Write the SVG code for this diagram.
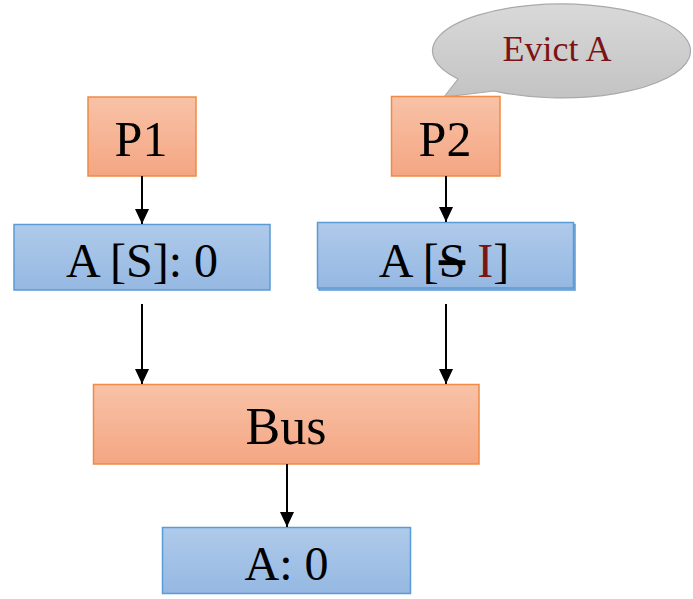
<svg xmlns="http://www.w3.org/2000/svg" width="693" height="599" viewBox="0 0 693 599">
  <defs>
    <linearGradient id="gOrange" x1="0" y1="0" x2="0" y2="1">
      <stop offset="0" stop-color="#f8c2a7"/>
      <stop offset="1" stop-color="#f4a683"/>
    </linearGradient>
    <linearGradient id="gBlue" x1="0" y1="0" x2="0" y2="1">
      <stop offset="0" stop-color="#afcaea"/>
      <stop offset="1" stop-color="#95b8e2"/>
    </linearGradient>
    <linearGradient id="gGray" x1="0" y1="0" x2="0" y2="1">
      <stop offset="0" stop-color="#d9d9d9"/>
      <stop offset="1" stop-color="#c3c3c3"/>
    </linearGradient>
    <marker id="arrow" viewBox="0 0 15 14" refX="15" refY="7" markerWidth="15" markerHeight="14" markerUnits="userSpaceOnUse" orient="auto">
      <path d="M0,0 L15,7 L0,14 Z" fill="#000"/>
    </marker>
  </defs>
  <style>
    .proc { fill: url(#gOrange); stroke: #f08a45; stroke-width: 1.5; }
    .cache { fill: url(#gBlue); stroke: #5b9bd5; stroke-width: 1.5; }
    .lbl { font-family: "Liberation Serif", "Times New Roman", serif; fill: #000; text-anchor: middle; }
    .big { font-size: 50px; }
    .mid { font-size: 48px; }
    .edge { stroke: #000; stroke-width: 2; fill: none; marker-end: url(#arrow); }
  </style>

  <!-- speech bubble -->
  <g id="callout">
    <path d="M444,97 L458,79 A129,47 0 1 1 494,91 Z" fill="url(#gGray)" stroke="#a9a9a9" stroke-width="1.2"/>
    <text class="lbl" x="557" y="61" font-size="36" style="fill:#7b1414">Evict A</text>
  </g>

  <g id="p1">
    <rect class="proc" x="88" y="97" width="108" height="79"/>
    <text class="lbl big" x="141" y="155.5">P1</text>
  </g>

  <g id="p2">
    <rect class="proc" x="391.5" y="96.5" width="108.5" height="79.5"/>
    <text class="lbl big" x="445" y="155.5">P2</text>
  </g>

  <g id="cache1">
    <rect class="cache" x="14" y="224.5" width="256" height="65.5"/>
    <text class="lbl mid" x="142" y="277">A [S]: 0</text>
  </g>

  <g id="cache2">
    <rect class="cache" x="319" y="224.5" width="256" height="65.5"/>
    <rect class="cache" x="317.5" y="222.5" width="256" height="65.5"/>
    <text class="lbl mid" x="444" y="277">A [<tspan text-decoration="line-through">S</tspan> <tspan style="fill:#7b1414">I</tspan>]</text>
  </g>

  <g id="bus">
    <rect class="proc" x="93.5" y="384.5" width="385.5" height="79.5"/>
    <text class="lbl" font-size="52" x="286" y="443.5">Bus</text>
  </g>

  <g id="memory">
    <rect class="cache" x="162.5" y="527.5" width="248" height="66"/>
    <text class="lbl mid" x="286.5" y="580">A: 0</text>
  </g>

  <g id="connectors">
    <line class="edge" x1="142" y1="176" x2="142" y2="224"/>
    <line class="edge" x1="446" y1="176" x2="446" y2="222"/>
    <line class="edge" x1="142" y1="304" x2="142" y2="384"/>
    <line class="edge" x1="446" y1="304" x2="446" y2="384"/>
    <line class="edge" x1="287" y1="464" x2="287" y2="527"/>
  </g>
</svg>
